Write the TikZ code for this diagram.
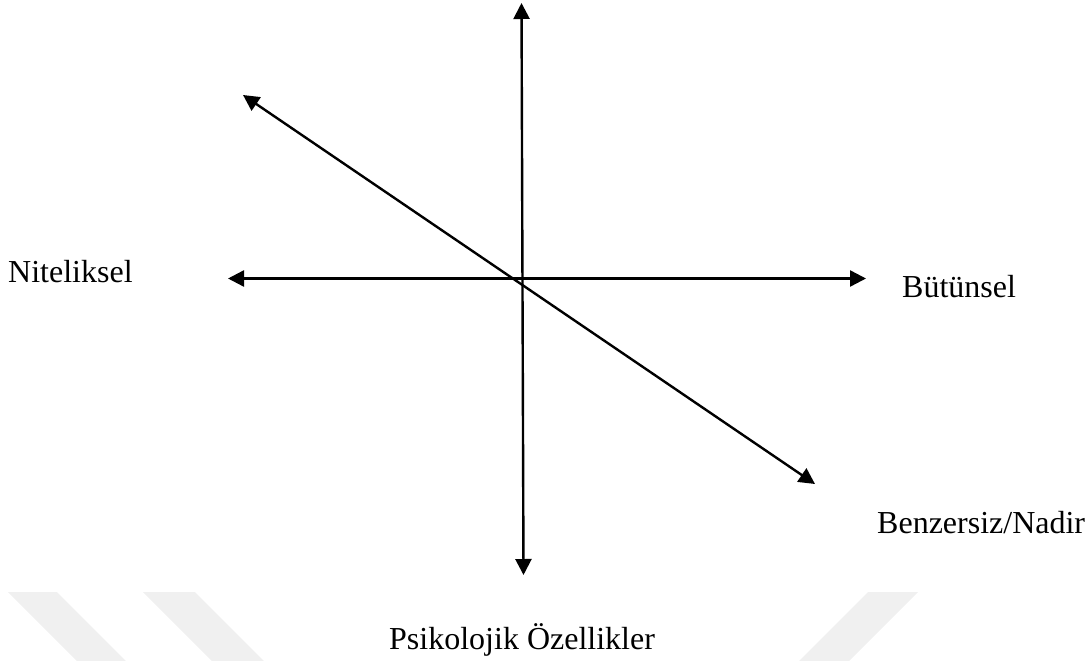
\documentclass[tikz,border=0pt]{standalone}
\usepackage{fontspec}
\setmainfont{Liberation Serif}
\usetikzlibrary{arrows.meta}
\definecolor{wm}{RGB}{240,240,240}
\begin{document}
\begin{tikzpicture}[x=1pt,y=-1pt,
  axis/.style={line width=2.4pt,{Triangle[length=16pt,width=16pt]}-{Triangle[length=16pt,width=16pt]}},
  lbl/.style={anchor=base west,inner sep=0pt,font=\fontsize{32}{36}\selectfont},
  stripe/.style={fill=wm,draw=none}]
\useasboundingbox (0,0) rectangle (1092,661);
% watermark stripes
\fill[stripe] (8,592) -- (57,592) -- (126,661) -- (77,661) -- cycle;
\fill[stripe] (143,592) -- (195,592) -- (264,661) -- (212,661) -- cycle;
\fill[stripe] (868,592) -- (918,592) -- (849,661) -- (799,661) -- cycle;
% axis end points
\coordinate (vt) at (521.5,3);
\coordinate (vb) at (523.5,575);
\coordinate (hl) at (228,278.5);
\coordinate (hr) at (866,278.5);
\coordinate (dl) at (243,95);
\coordinate (dr) at (815,484);
\draw[axis] (vb) -- (vt);
\draw[axis] (hl) -- (hr);
\draw[axis] (dl) -- (dr);
% labels
\node[lbl] (nit) at (8,282) {Niteliksel};
\node[lbl] (but) at (902,297) {Bütünsel};
\node[lbl] (ben) at (877,533) {Benzersiz/Nadir};
\node[lbl] (psi) at (389,649) {Psikolojik Özellikler};
\end{tikzpicture}
\end{document}
